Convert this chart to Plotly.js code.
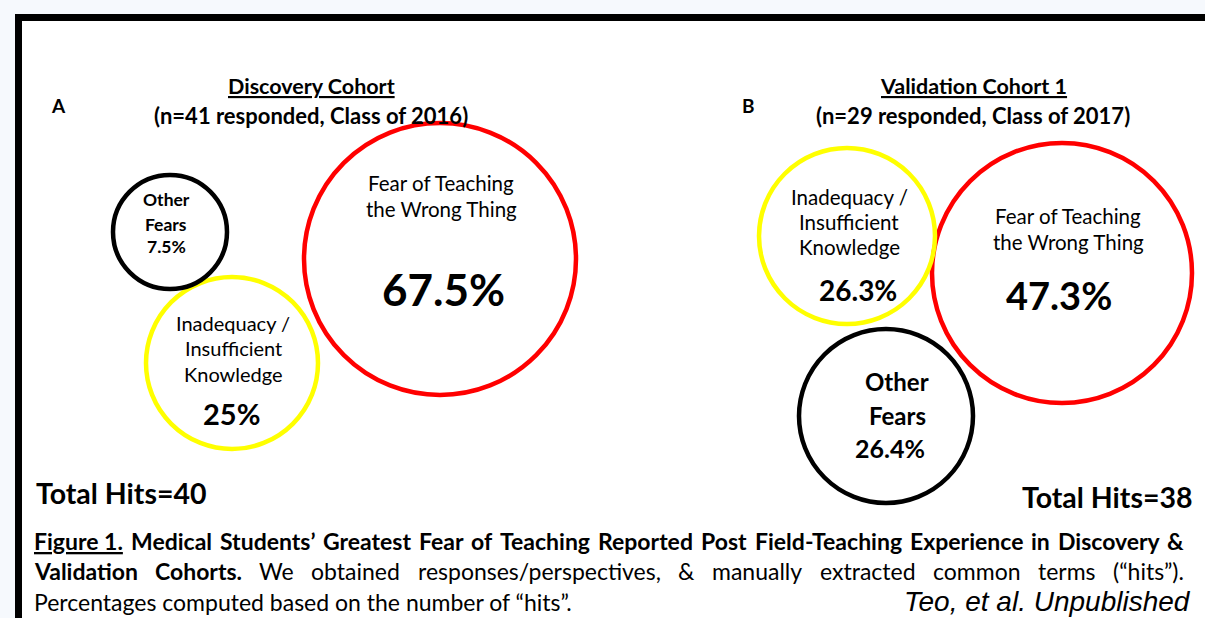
<!DOCTYPE html>
<html>
<head>
<meta charset="utf-8">
<script src="https://cdn.plot.ly/plotly-3.0.1.min.js"></script>
<style>html,body{margin:0;padding:0;background:#f6f9fd;}#chart{width:1205px;height:618px;}</style>
</head>
<body>
<div id="chart"></div>
<script>
// ---------------- DATA ----------------
const panels = ['A', 'B'];
const cohortTitles = ['Discovery Cohort', 'Validation Cohort 1'];
const cohortSubtitles = ['(n=41 responded, Class of 2016)', '(n=29 responded, Class of 2017)'];
const categories = ['Fear of Teaching the Wrong Thing', 'Inadequacy / Insufficient Knowledge', 'Other Fears'];
const categoryLines = [['Fear of Teaching', 'the Wrong Thing'], ['Inadequacy /', 'Insufficient', 'Knowledge'], ['Other', 'Fears']];
const discoveryPct = [67.5, 25, 7.5];
const validationPct = [47.3, 26.3, 26.4];
const totalHits = [40, 38];
const captionLine1 = ['Figure 1.', 'Medical Students’ Greatest Fear of Teaching Reported Post Field-Teaching Experience in Discovery &'];
const captionLine2 = ['Validation Cohorts.', 'We obtained responses/perspectives, & manually extracted common terms (“hits”).'];
const captionLine3 = 'Percentages computed based on the number of “hits”.';
const credit = 'Teo, et al. Unpublished';

// ---------------- LAYOUT / STYLE ----------------
const FONT = 'Lato, "Open Sans", sans-serif';
const W = 1205, H = 618;
const colors = ['#ff0000', '#ffff00', '#000000'];
// per panel, per category: circle geometry (pixel units of the axes) and label placements
const geom = [
  [ {cx:440, cy:259, r:136, lx:441, ly:[183,209], ls:20.5, lw:'normal', px:443, py:289, ps:44},
    {cx:232, cy:363, r:86,  lx:233, ly:[323,348,374], ls:20, lw:'normal', px:231, py:413, ps:29},
    {cx:170, cy:232, r:57,  lx:166, ly:[199,224], ls:17.5, lw:'bold', px:166, py:246, ps:17.5} ],
  [ {cx:1062, cy:273, r:130, lx:1068, ly:[216,242], ls:20.5, lw:'normal', px:1059, py:295, ps:38},
    {cx:847, cy:236, r:88,  lx:849, ly:[197,222,247], ls:20.5, lw:'normal', px:858, py:290, ps:28},
    {cx:886, cy:416, r:87,  lx:897, ly:[381,415], ls:24, lw:'bold', px:890, py:448, ps:25} ]
];
const headerX = [311, 973];
const panelLetterX = [58, 748];

const shapes = [];
const annotations = [];
function ann(text, x, y, size, opts) {
  annotations.push(Object.assign({
    text: text, x: x, y: y, xref: 'x', yref: 'y', showarrow: false,
    xanchor: 'center', yanchor: 'middle',
    font: {family: FONT, size: size, color: '#000'}
  }, opts || {}));
}

// frame: white sheet with thick black top/left border
shapes.push({type:'rect', xref:'x', yref:'y', x0:15, y0:14, x1:W+10, y1:H+10, fillcolor:'#ffffff', line:{width:0}, layer:'below'});
shapes.push({type:'rect', xref:'x', yref:'y', x0:15, y0:14, x1:W+10, y1:21, fillcolor:'#000', line:{width:0}, layer:'below'});
shapes.push({type:'rect', xref:'x', yref:'y', x0:15, y0:14, x1:22, y1:H+10, fillcolor:'#000', line:{width:0}, layer:'below'});

const pctSeries = [discoveryPct, validationPct];
panels.forEach((p, pi) => {
  ann(p, panelLetterX[pi], 105, 19, {font:{family:FONT, size:19, color:'#000', weight:'bold'}});
  ann(cohortTitles[pi], headerX[pi], 86, 21.5, {font:{family:FONT, size:21.5, color:'#000', weight:'bold', lineposition:'under'}});
  ann(cohortSubtitles[pi], headerX[pi], 115, 22, {font:{family:FONT, size:22, color:'#000', weight:'bold'}});
  categories.forEach((c, ci) => {
    const g = geom[pi][ci];
    shapes.push({type:'circle', xref:'x', yref:'y', x0:g.cx-g.r, x1:g.cx+g.r, y0:g.cy-g.r, y1:g.cy+g.r,
      line:{color:colors[ci], width:4.5}, fillcolor:'rgba(0,0,0,0)'});
    categoryLines[ci].forEach((ln, li) => {
      ann(ln, g.lx, g.ly[li], g.ls, {font:{family:FONT, size:g.ls, color:'#000', weight:g.lw}});
    });
    ann(String(pctSeries[pi][ci]) + '%', g.px, g.py, g.ps, {font:{family:FONT, size:g.ps, color:'#000', weight:'bold'}});
  });
});

ann('Total Hits=' + totalHits[0], 34, 493, 28.5, {xanchor:'left', font:{family:FONT, size:28.5, color:'#000', weight:'bold'}});
ann('Total Hits=' + totalHits[1], 1195, 497, 28.5, {xanchor:'right', font:{family:FONT, size:28.5, color:'#000', weight:'bold'}});

// caption, justified between left and right margins
const CAP = 23, CAPL = 33, CAPR = 1183;
const cv = document.createElement('canvas').getContext('2d');
function measure(t, weight, size) { cv.font = weight + ' ' + size + 'px Lato'; return cv.measureText(t).width; }
function justifiedLine(segments, y) {
  // segments: [{text, weight, underline}]; underlined segments stay one token
  const words = [];
  segments.forEach(s => {
    if (s.underline) words.push({t:s.text, weight:s.weight, u:true});
    else s.text.split(' ').forEach(w => words.push({t:w, weight:s.weight, u:false}));
  });
  const widths = words.map(w => measure(w.t, w.weight, CAP));
  const total = widths.reduce((a, b) => a + b, 0);
  const gap = (CAPR - CAPL - total) / (words.length - 1);
  let x = CAPL;
  words.forEach((w, i) => {
    ann(w.t, x - 1, y, CAP, {xanchor:'left', font:{family:FONT, size:CAP, color:'#000', weight:w.weight, lineposition: w.u ? 'under' : 'none'}});
    x += widths[i] + gap;
  });
}
justifiedLine([{text:captionLine1[0], weight:'bold', underline:true}, {text:captionLine1[1], weight:'bold'}], 541);
justifiedLine([{text:captionLine2[0], weight:'bold'}, {text:captionLine2[1], weight:'normal'}], 571);
ann(captionLine3, CAPL - 1, 602, CAP, {xanchor:'left'});
ann(credit, 1193, 601, 28, {xanchor:'right', font:{family:'"Liberation Sans", Arial, sans-serif', size:28, color:'#000', style:'italic'}});

const layout = {
  width: W, height: H,
  margin: {l:0, r:0, t:0, b:0, pad:0},
  paper_bgcolor: '#f6f9fd', plot_bgcolor: 'rgba(0,0,0,0)',
  showlegend: false,
  xaxis: {range:[0, W], visible:false, fixedrange:true},
  yaxis: {range:[H, 0], visible:false, fixedrange:true},
  shapes: shapes, annotations: annotations
};
Plotly.newPlot('chart', [{x:[], y:[], type:'scatter', mode:'markers', hoverinfo:'skip'}], layout, {staticPlot:true, displayModeBar:false});
</script>
</body>
</html>
